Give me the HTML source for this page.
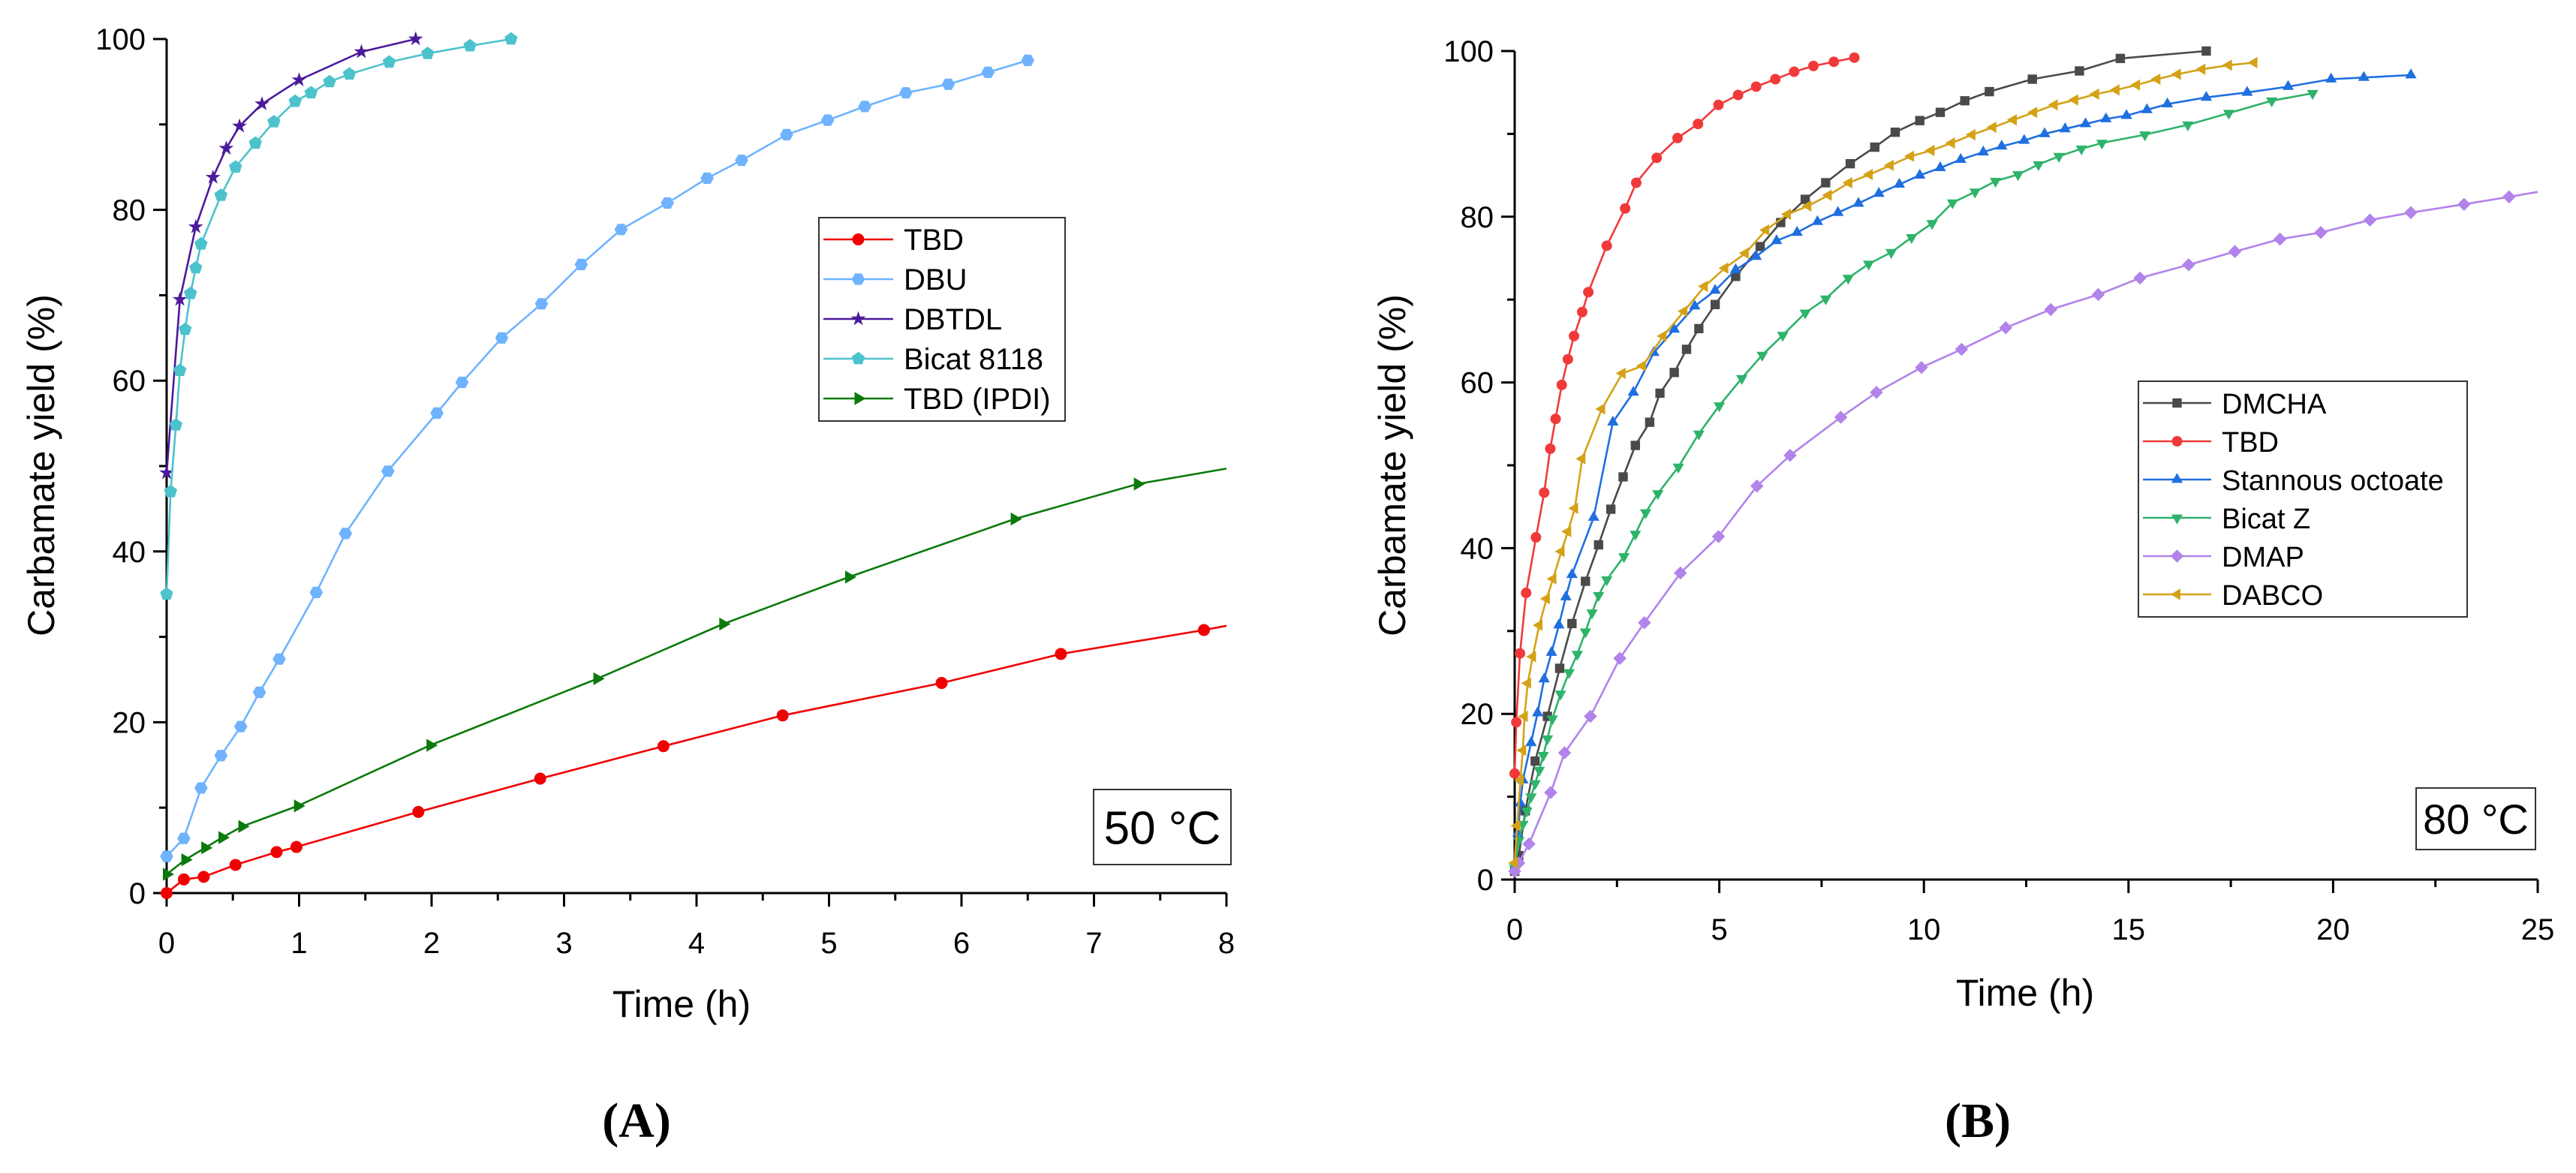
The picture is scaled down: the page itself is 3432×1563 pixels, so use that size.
<!DOCTYPE html>
<html><head><meta charset="utf-8"><style>
html,body{margin:0;padding:0;background:#fff;}
svg{display:block;font-family:"Liberation Sans",sans-serif;}
</style></head><body>
<svg id="chart" width="3432" height="1563" viewBox="0 0 3432 1563" xmlns="http://www.w3.org/2000/svg"></svg>
<script>
// ---------- Panel A data (50 °C) ----------
const aTbdX=[0,0.13,0.28,0.52,0.83,0.98,1.9,2.82,3.75,4.65,5.85,6.75,7.83];
const aTbdY=[0,1.6,1.9,3.3,4.8,5.4,9.5,13.4,17.2,20.8,24.6,28,30.8];
const aDbuX=[0,0.13,0.26,0.41,0.56,0.7,0.85,1.13,1.35,1.67,2.04,2.23,2.53,2.83,3.13,3.43,3.78,4.08,4.34,4.68,4.99,5.27,5.58,5.9,6.2,6.5];
const aDbuY=[4.3,6.4,12.3,16.1,19.5,23.5,27.4,35.2,42.1,49.4,56.2,59.8,65,69,73.6,77.7,80.8,83.7,85.8,88.8,90.5,92.1,93.7,94.7,96.1,97.5];
const aDbtdlX=[0,0.1,0.22,0.35,0.45,0.55,0.72,1.0,1.47,1.88];
const aDbtdlY=[49.2,69.5,78,83.8,87.2,89.8,92.4,95.2,98.5,100];
const aBicatX=[0,0.03,0.07,0.1,0.14,0.18,0.22,0.26,0.41,0.52,0.67,0.81,0.97,1.09,1.23,1.38,1.68,1.97,2.29,2.6];
const aBicatY=[35,47,54.8,61.2,66,70.2,73.2,76,81.7,85,87.8,90.3,92.7,93.7,95,95.9,97.3,98.3,99.2,100];
const aIpdiX=[0,0.14,0.29,0.42,0.57,0.99,1.99,3.25,4.2,5.15,6.4,7.33];
const aIpdiY=[2.2,3.9,5.3,6.5,7.8,10.2,17.3,25.1,31.5,37,43.8,47.9];
const aXTicks=[0,1,2,3,4,5,6,7,8];
const aYTicks=[0,20,40,60,80,100];
// ---------- Panel B data (80 °C) ----------
const bDmchaX=[0,0.1,0.26,0.5,0.8,1.1,1.4,1.73,2.05,2.35,2.65,2.95,3.3,3.55,3.9,4.2,4.5,4.9,5.4,6.0,6.5,7.1,7.6,8.2,8.8,9.3,9.9,10.4,11.0,11.6,12.65,13.8,14.8,16.9];
const bDmchaY=[1,2.9,8.3,14.3,19.7,25.5,30.9,36,40.4,44.7,48.6,52.4,55.2,58.7,61.2,64,66.5,69.4,72.8,76.4,79.3,82.1,84.1,86.4,88.4,90.2,91.6,92.6,94.0,95.1,96.6,97.6,99.1,100];
const bTbdX=[0,0.04,0.13,0.28,0.52,0.72,0.87,1.0,1.15,1.3,1.45,1.65,1.8,2.25,2.7,2.97,3.47,3.98,4.48,4.98,5.46,5.9,6.37,6.83,7.3,7.8,8.3];
const bTbdY=[12.8,19,27.3,34.6,41.3,46.7,52,55.6,59.7,62.8,65.6,68.5,70.9,76.5,81,84.1,87.1,89.5,91.2,93.5,94.7,95.7,96.6,97.5,98.2,98.7,99.2];
const bSnX=[0,0.08,0.14,0.2,0.4,0.56,0.72,0.9,1.08,1.25,1.4,1.93,2.4,2.9,3.4,3.9,4.4,4.9,5.4,5.9,6.4,6.9,7.4,7.9,8.4,8.9,9.4,9.9,10.4,10.9,11.45,11.9,12.45,12.95,13.45,13.95,14.45,14.95,15.45,15.95,16.9,17.9,18.9,19.95,20.75,21.9];
const bSnY=[1.3,5.6,9.2,12,16.5,20.1,24.2,27.4,30.7,34.1,36.8,43.7,55.2,58.8,63.6,66.4,69.2,71.1,73.6,75.2,77.1,78.1,79.4,80.5,81.6,82.8,83.9,85,85.9,86.9,87.8,88.5,89.2,90,90.6,91.2,91.8,92.2,92.9,93.6,94.4,95,95.7,96.6,96.8,97.1];
const bBicatX=[0,0.1,0.2,0.3,0.4,0.5,0.6,0.7,0.8,0.92,1.12,1.33,1.53,1.73,1.89,2.05,2.25,2.67,2.95,3.2,3.5,4.0,4.5,5.0,5.55,6.05,6.55,7.1,7.6,8.15,8.65,9.2,9.7,10.2,10.7,11.25,11.75,12.3,12.8,13.3,13.85,14.35,15.4,16.45,17.45,18.5,19.5];
const bBicatY=[1.4,4.7,6.7,8.3,10,11.6,13.2,15,17,19.4,22.4,25,27.2,29.9,32.2,34.3,36.2,39,41.7,44.3,46.6,49.8,53.8,57.2,60.5,63.3,65.7,68.4,70.1,72.6,74.3,75.7,77.5,79.2,81.7,83,84.3,85.1,86.3,87.3,88.2,88.9,89.9,91.1,92.5,94,94.9];
const bDmapX=[0,0.1,0.35,0.88,1.22,1.85,2.57,3.17,4.05,4.98,5.92,6.73,7.97,8.84,9.94,10.92,12,13.1,14.26,15.28,16.47,17.6,18.7,19.7,20.9,21.9,23.2,24.3];
const bDmapY=[1,2,4.3,10.5,15.3,19.7,26.7,31,37,41.4,47.5,51.2,55.8,58.8,61.8,64,66.6,68.8,70.6,72.6,74.2,75.8,77.3,78.1,79.6,80.5,81.5,82.4];
const bDabcoX=[0,0.06,0.14,0.2,0.24,0.32,0.44,0.6,0.78,0.94,1.14,1.3,1.47,1.65,2.13,2.63,3.13,3.63,4.14,4.64,5.14,5.64,6.14,6.67,7.17,7.67,8.17,8.67,9.18,9.68,10.18,10.68,11.18,11.69,12.19,12.69,13.19,13.69,14.2,14.7,15.2,15.7,16.2,16.8,17.45,18.07];
const bDabcoY=[2,6.5,12,15.6,19.7,23.7,26.9,30.7,33.9,36.3,39.6,42,44.8,50.8,56.8,61.1,62,65.6,68.6,71.6,73.8,75.6,78.4,80.3,81.3,82.6,84.1,85.1,86.2,87.3,88,88.9,89.9,90.8,91.7,92.6,93.5,94.1,94.8,95.3,95.9,96.6,97.2,97.8,98.3,98.6];
const bXTicks=[0,5,10,15,20,25];
const bYTicks=[0,20,40,60,80,100];

const NS="http://www.w3.org/2000/svg";
const svg=document.getElementById('chart');
function mk(tag,attrs,parent){const e=document.createElementNS(NS,tag);for(const k in attrs)e.setAttribute(k,attrs[k]);(parent||svg).appendChild(e);return e;}

function markerPath(shape,x,y,r){
  const pts=(n,rot,rr)=>{let s=[];for(let i=0;i<n;i++){const a=rot+i*2*Math.PI/n;s.push((x+rr*Math.cos(a)).toFixed(1)+','+(y+rr*Math.sin(a)).toFixed(1));}return s.join(' ');};
  if(shape==='hex')return pts(6,0,r*1.1);
  if(shape==='pent')return pts(5,-Math.PI/2,r*1.15);
  if(shape==='tri-up')return pts(3,-Math.PI/2,r*1.25);
  if(shape==='tri-down')return pts(3,Math.PI/2,r*1.25);
  if(shape==='tri-right')return pts(3,0,r*1.25);
  if(shape==='tri-left')return pts(3,Math.PI,r*1.25);
  if(shape==='diamond')return pts(4,0,r*1.25);
  if(shape==='square')return pts(4,Math.PI/4,r*1.25);
  if(shape==='star'){let s=[];for(let i=0;i<10;i++){const a=-Math.PI/2+i*Math.PI/5;const rr=i%2?r*0.5:r*1.3;s.push((x+rr*Math.cos(a)).toFixed(1)+','+(y+rr*Math.sin(a)).toFixed(1));}return s.join(' ');}
  return null;
}
function drawMarker(g,shape,x,y,r,color){
  if(shape==='circle'){const c=mk('circle',{cx:x,cy:y,r:r,fill:color},g);return c;}
  return mk('polygon',{points:markerPath(shape,x,y,r),fill:color},g);
}

function panel(cfg){
  const g=mk('g',{});
  
  
  const sx=v=>cfg.x0+(v-cfg.xmin)/(cfg.xmax-cfg.xmin)*(cfg.x1-cfg.x0);
  const sy=v=>cfg.y0-(v-cfg.ymin)/(cfg.ymax-cfg.ymin)*(cfg.y0-cfg.y1);
  // axes
  const ax=mk('line',{x1:cfg.x0,y1:cfg.y0,x2:cfg.x1,y2:cfg.y0,stroke:'#000','stroke-width':3},g);
  
  const ay=mk('line',{x1:cfg.x0,y1:cfg.y0,x2:cfg.x0,y2:cfg.y1,stroke:'#000','stroke-width':3},g);
  
  // x ticks
  const xt=cfg.xTicks, step=xt[1]-xt[0];
  for(let i=0;i<xt.length;i++){
    const X=sx(xt[i]);
    mk('line',{x1:X,y1:cfg.y0,x2:X,y2:cfg.y0+18,stroke:'#000','stroke-width':3},g);
    if(i<xt.length-1){const m=sx(xt[i]+step/2);mk('line',{x1:m,y1:cfg.y0,x2:m,y2:cfg.y0+10,stroke:'#000','stroke-width':3},g);}
    const t=mk('text',{x:X,y:cfg.y0+80,'font-size':40,'text-anchor':'middle',fill:'#000'},g);
    t.textContent=xt[i];
    
  }
  const yt=cfg.yTicks, ys=yt[1]-yt[0];
  for(let i=0;i<yt.length;i++){
    const Y=sy(yt[i]);
    mk('line',{x1:cfg.x0,y1:Y,x2:cfg.x0-18,y2:Y,stroke:'#000','stroke-width':3},g);
    if(i<yt.length-1){const m=sy(yt[i]+ys/2);mk('line',{x1:cfg.x0,y1:m,x2:cfg.x0-10,y2:m,stroke:'#000','stroke-width':3},g);}
    const t=mk('text',{x:cfg.x0-28,y:Y+14,'font-size':40,'text-anchor':'end',fill:'#000'},g);
    t.textContent=yt[i];
    
  }
  const xtl=mk('text',{x:cfg.xtX,y:cfg.xtY,'font-size':50,'text-anchor':'middle',fill:'#000'},g);
  xtl.textContent='Time (h)';
  
  const ytl=mk('text',{x:0,y:0,'font-size':50,'text-anchor':'middle',fill:'#000',transform:`translate(${cfg.ytX},${cfg.ytY}) rotate(-90)`},g);
  ytl.textContent='Carbamate yield (%)';
  
  // series
  cfg.series.forEach(s=>{
    const sg=mk('g',{},g);
    
    
    let d='';
    s.xs.forEach((v,i)=>{d+=(i?'L':'M')+sx(v).toFixed(1)+','+sy(s.ys[i]).toFixed(1);});
    if(s.extX!==undefined)d+='L'+sx(s.extX).toFixed(1)+','+sy(s.extY).toFixed(1);
    const p=mk('path',{d:d,fill:'none',stroke:s.color,'stroke-width':2.6},sg);
    
    s.xs.forEach((v,i)=>{
      const m=drawMarker(sg,s.shape,sx(v),sy(s.ys[i]),cfg.mr,s.color);
      
      
    });
  });
  // legend
  const L=cfg.legend;
  const lg=mk('g',{},g);
  
  mk('rect',{x:L.x,y:L.y,width:L.w,height:L.h,fill:'#fff',stroke:'#333','stroke-width':2},lg);
  cfg.series.forEach((s,i)=>{
    const Y=L.y+L.first+i*L.step;
    const eg=mk('g',{},lg);
    
    mk('line',{x1:L.x+6,y1:Y,x2:L.x+6+L.lineW,y2:Y,stroke:s.color,'stroke-width':2.6},eg);
    drawMarker(eg,s.shape,L.x+6+L.lineW/2,Y,cfg.mr,s.color);
    const t=mk('text',{x:L.x+L.textOff,y:Y+14,'font-size':L.fs,fill:'#000'},eg);
    t.textContent=s.label;
  });
  // temp box
  const T=cfg.temp;
  const tg=mk('g',{},g);
  
  mk('rect',{x:T.x,y:T.y,width:T.w,height:T.h,fill:'#fff',stroke:'#333','stroke-width':2},tg);
  const tt=mk('text',{x:T.x+T.w/2,y:T.y+T.h/2+T.fs*0.36,'font-size':T.fs,'text-anchor':'middle',fill:'#000'},tg);
  tt.textContent=T.text;
  const pl=mk('text',{x:cfg.plX,y:1515,'font-size':66,'font-weight':'bold','text-anchor':'middle','font-family':'"Liberation Serif",serif',fill:'#000'},g);
  pl.textContent=cfg.panelLabel;
  
}

panel({name:'panel-a-50c',x0:222,x1:1634,y0:1190,y1:52,xmin:0,xmax:8,ymin:0,ymax:100,
  xTicks:aXTicks,yTicks:aYTicks,mr:8,xtX:908,xtY:1355,ytX:72,ytY:620,plX:848,panelLabel:'(A)',
  series:[
    {key:'tbd',label:'TBD',color:'#f00000',shape:'circle',xs:aTbdX,ys:aTbdY,extX:8,extY:31.3},
    {key:'dbu',label:'DBU',color:'#6fb3ff',shape:'hex',xs:aDbuX,ys:aDbuY},
    {key:'dbtdl',label:'DBTDL',color:'#4b1a9c',shape:'star',xs:aDbtdlX,ys:aDbtdlY},
    {key:'bicat-8118',label:'Bicat 8118',color:'#4cc3cc',shape:'pent',xs:aBicatX,ys:aBicatY},
    {key:'tbd-ipdi',label:'TBD (IPDI)',color:'#0b7a0b',shape:'tri-right',xs:aIpdiX,ys:aIpdiY,extX:8,extY:49.7}
  ],
  legend:{x:1091,y:290,w:328,h:271,first:29,step:53,lineW:93,textOff:113,fs:40},
  temp:{x:1457,y:1052,w:183,h:100,fs:62,text:'50 °C'}
});
panel({name:'panel-b-80c',x0:2018,x1:3381,y0:1172,y1:68,xmin:0,xmax:25,ymin:0,ymax:100,
  xTicks:bXTicks,yTicks:bYTicks,mr:7,xtX:2698,xtY:1340,ytX:1872,ytY:620,plX:2635,panelLabel:'(B)',
  series:[
    {key:'dmcha',label:'DMCHA',color:'#4a4a4a',shape:'square',xs:bDmchaX,ys:bDmchaY},
    {key:'tbd',label:'TBD',color:'#f03a3a',shape:'circle',xs:bTbdX,ys:bTbdY},
    {key:'stannous-octoate',label:'Stannous octoate',color:'#1f6fe0',shape:'tri-up',xs:bSnX,ys:bSnY},
    {key:'bicat-z',label:'Bicat Z',color:'#2eb36a',shape:'tri-down',xs:bBicatX,ys:bBicatY},
    {key:'dmap',label:'DMAP',color:'#b283ea',shape:'diamond',xs:bDmapX,ys:bDmapY,extX:25,extY:83},
    {key:'dabco',label:'DABCO',color:'#d4a217',shape:'tri-left',xs:bDabcoX,ys:bDabcoY}
  ],
  legend:{x:2849,y:508,w:438,h:314,first:29,step:51,lineW:91,textOff:111,fs:38},
  temp:{x:3219,y:1050,w:159,h:82,fs:56,text:'80 °C'}
});
</script>
</body></html>
